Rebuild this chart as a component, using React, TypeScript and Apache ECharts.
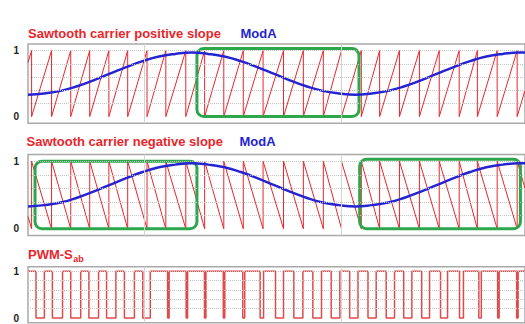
import React, { useEffect, useRef } from "react";
import * as echarts from "echarts";

// time axis in ms
const X_MAX = 30.36;

// sawtooth carrier reset instants (ms)
const carrierResets = [
  0.22, 1.44, 2.61, 3.77, 4.94, 6.09, 7.27, 8.42, 9.64, 10.79, 11.96, 13.15, 14.36,
  15.61, 16.82, 18.04, 19.15, 20.36, 21.48, 22.69, 23.91, 25.12, 26.34, 27.45, 28.66, 29.88,
];
const carrierStart = 0.82;
const carrierEnd = 0.4;

// modulating signal ModA (ms, value)
const modTimes = [
  0, 1, 2, 3, 4, 5, 6, 7, 8, 9, 10, 11, 12, 13, 14, 15, 16, 17, 18, 19, 20, 21, 22, 23, 24,
  25, 26, 27, 28, 29, 30, 30.36,
];
const modA = [
  0.33, 0.35, 0.39, 0.46, 0.55, 0.65, 0.75, 0.84, 0.91, 0.95, 0.97, 0.95, 0.91, 0.84, 0.75,
  0.65, 0.55, 0.46, 0.39, 0.35, 0.33, 0.35, 0.39, 0.46, 0.55, 0.65, 0.75, 0.84, 0.91, 0.95,
  0.97, 0.97,
];

// PWM-Sab low intervals (ms)
const pwmLowStart = [
  0.49, 1.49, 2.61, 3.72, 4.8, 5.89, 7.01, 8.53, 9.66, 10.78, 11.93, 13.12, 14.18, 15.12,
  16.24, 17.4, 18.52, 19.65, 20.77, 21.88, 22.95, 24.05, 25.2, 26.36, 27.54, 28.69, 29.85,
];
const pwmLowEnd = [
  1.0, 2.11, 3.22, 4.31, 5.37, 6.5, 7.47, 8.62, 9.75, 10.87, 12.02, 13.24, 14.39, 15.61,
  16.79, 17.93, 19.05, 20.16, 21.27, 22.39, 23.45, 24.53, 25.63, 26.6, 27.69, 28.78, 29.94,
];

const gridLevels = [0.2, 0.4, 0.6, 0.8, 1.0];
const vGridTimes = [7.1, 19.13];
const yLabelValues = [0, 1];

// green highlight boxes [t0, v0, t1, v1]
const boxesPositive = [[10.32, 0, 20.22, 1.03]];
const boxesNegative = [
  [0.43, 0, 10.32, 1.0],
  [20.26, 0, 30.08, 1.03],
];

const RED = "#e8262c";
const BLUE = "#2424d2";
const GREEN = "#2ea64c";
const FONT = "Liberation Sans, Arial, sans-serif";

function buildSaw(positive: boolean) {
  const f = (v: number) => (positive ? v : 1 - v);
  const pts: number[][] = [[0, f(carrierStart)]];
  carrierResets.forEach((r) => {
    pts.push([r, f(1)]);
    pts.push([r, f(0)]);
  });
  pts.push([X_MAX, f(carrierEnd)]);
  return pts;
}

function buildPwm() {
  const pts: number[][] = [[0, 1]];
  pwmLowStart.forEach((a, i) => {
    const b = pwmLowEnd[i];
    pts.push([a, 1], [a, 0], [b, 0], [b, 1]);
  });
  pts.push([X_MAX, 1]);
  return pts;
}

const modData = modTimes.map((t, i) => [t, modA[i]]);

function gridMarkLine() {
  return {
    silent: true,
    symbol: "none",
    label: { show: false },
    animation: false,
    data: [
      ...gridLevels.map((v) => ({
        yAxis: v,
        lineStyle: { type: "dotted", color: "#c4c4c4", width: 1 },
      })),
      ...vGridTimes.map((t) => ({
        xAxis: t,
        lineStyle: { type: "solid", color: "#d4d4d4", width: 1 },
      })),
    ],
  };
}

function boxSeries(boxes: number[][], idx: number) {
  return {
    type: "custom",
    xAxisIndex: idx,
    yAxisIndex: idx,
    clip: false,
    silent: true,
    z: 3,
    encode: { x: [0, 2], y: [1, 3] },
    data: boxes,
    renderItem: (params: any, api: any) => {
      const p0 = api.coord([api.value(0), api.value(3)]);
      const p1 = api.coord([api.value(2), api.value(1)]);
      return {
        type: "rect",
        shape: { x: p0[0], y: p0[1], width: p1[0] - p0[0], height: p1[1] - p0[1], r: 7 },
        style: { fill: "none", stroke: GREEN, lineWidth: 3 },
      };
    },
  };
}

export default function App() {
  const ref = useRef<HTMLDivElement>(null);
  useEffect(() => {
    if (!ref.current) return;
    const chart = echarts.init(ref.current, null, { renderer: "svg" });
    const grids = [
      { left: 28, top: 44, width: 500, height: 79.2 },
      { left: 28, top: 154.5, width: 500, height: 81 },
      { left: 28, top: 266.7, width: 500, height: 56 },
    ];
    const titleStyle = (color: string, size = 13) => ({
      color,
      fontSize: size,
      fontWeight: "bold",
      fontFamily: FONT,
      lineHeight: size,
    });
    chart.setOption({
      animation: false,
      backgroundColor: "#ffffff",
      title: [
        { text: "Sawtooth carrier positive slope", left: 28, top: 26.8, padding: 0, textStyle: titleStyle(RED) },
        { text: "ModA", left: 240.5, top: 26.8, padding: 0, textStyle: titleStyle(BLUE) },
        { text: "Sawtooth carrier negative slope", left: 26.5, top: 134.5, padding: 0, textStyle: titleStyle(RED) },
        { text: "ModA", left: 239.5, top: 134.5, padding: 0, textStyle: titleStyle(BLUE) },
        { text: "PWM-S", left: 28, top: 248.2, padding: 0, textStyle: titleStyle(RED) },
        { text: "ab", left: 73.3, top: 254.5, padding: 0, textStyle: titleStyle(RED, 9) },
      ],
      grid: grids.map((g) => ({
        ...g,
        show: true,
        borderColor: "#a9a9a9",
        borderWidth: 1.5,
        backgroundColor: "transparent",
      })),
      xAxis: grids.map((_, i) => ({
        type: "value",
        gridIndex: i,
        min: 0,
        max: X_MAX,
        axisLine: { show: false },
        axisTick: { show: false },
        axisLabel: { show: false },
        splitLine: { show: false },
      })),
      yAxis: grids.map((_, i) => ({
        type: "value",
        gridIndex: i,
        min: -0.1,
        max: 1.1,
        interval: 0.1,
        axisLine: { show: false },
        axisTick: { show: false },
        splitLine: { show: false },
        axisLabel: {
          margin: 9,
          color: "#222",
          fontSize: 10,
          fontWeight: "bold",
          fontFamily: FONT,
          formatter: (v: number) => {
            const hit = yLabelValues.find((y) => Math.abs(v - y) < 1e-6);
            return hit === undefined ? "" : String(hit);
          },
        },
      })),
      series: [
        {
          name: "Sawtooth carrier positive slope",
          type: "line",
          xAxisIndex: 0,
          yAxisIndex: 0,
          data: buildSaw(true),
          showSymbol: false,
          symbol: "none",
          lineStyle: { color: RED, width: 1 },
          z: 2,
          markLine: gridMarkLine(),
        },
        boxSeries(boxesPositive, 0),
        {
          name: "ModA",
          type: "line",
          xAxisIndex: 0,
          yAxisIndex: 0,
          data: modData,
          smooth: true,
          showSymbol: false,
          symbol: "none",
          lineStyle: { color: BLUE, width: 2.5 },
          z: 4,
        },
        {
          name: "Sawtooth carrier negative slope",
          type: "line",
          xAxisIndex: 1,
          yAxisIndex: 1,
          data: buildSaw(false),
          showSymbol: false,
          symbol: "none",
          lineStyle: { color: RED, width: 1 },
          z: 2,
          markLine: gridMarkLine(),
        },
        boxSeries(boxesNegative, 1),
        {
          name: "ModA ",
          type: "line",
          xAxisIndex: 1,
          yAxisIndex: 1,
          data: modData,
          smooth: true,
          showSymbol: false,
          symbol: "none",
          lineStyle: { color: BLUE, width: 2.5 },
          z: 4,
        },
        {
          name: "PWM-Sab",
          type: "line",
          xAxisIndex: 2,
          yAxisIndex: 2,
          data: buildPwm(),
          showSymbol: false,
          symbol: "none",
          lineStyle: { color: "#e04a4a", width: 1.5 },
          z: 2,
          markLine: gridMarkLine(),
        },
      ],
    });
    return () => chart.dispose();
  }, []);
  return (
    <div
      ref={ref}
      style={{ position: "fixed", left: 0, top: 0, width: 525, height: 324, background: "#fff" }}
    />
  );
}
